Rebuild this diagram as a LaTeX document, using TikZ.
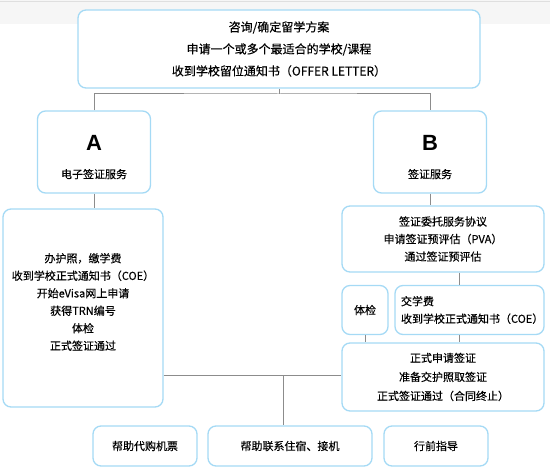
\documentclass[tikz,border=0pt]{standalone}
\usepackage{fontspec}
\setmainfont{Noto Sans CJK SC}[FakeBold=0.3]
\newfontfamily\letterfont{Liberation Sans}
\usetikzlibrary{positioning}
\definecolor{boxblue}{RGB}{165,218,245}
\definecolor{linegray}{RGB}{140,140,140}
\tikzset{
  stepbox/.style={draw=boxblue, fill=white, line width=1.3pt, rounded corners=8pt,
    align=center, inner sep=0pt, font=\fontsize{11}{17.5}\selectfont},
  link/.style={draw=linegray, line width=1pt},
}

\begin{document}
\begin{tikzpicture}[x=1pt,y=-1pt]
\useasboundingbox (0,0) rectangle (550,468);

% faint strip along the top
\fill[gray!7] (0,0) rectangle (550,24);
\draw[gray!25, line width=0.8] (0,1.5) -- (550,1.5);

\coordinate (split) at (279,94);
\coordinate (feeLine) at (459,285);
\coordinate (join) at (283,376);

\node[stepbox, minimum width=402, minimum height=78, font=\fontsize{12}{22}\selectfont] (consult) at (279,49)
  {咨询/确定留学方案\\申请一个或多个最适合的学校/课程\\收到学校留位通知书（OFFER LETTER）};

\node[stepbox, minimum width=113, minimum height=82] (visaA) at (94,152)
  {\rule{0pt}{26pt}{\letterfont\bfseries\fontsize{22}{22}\selectfont A}\\[10pt]电子签证服务};
\node[stepbox, minimum width=113, minimum height=82] (visaB) at (430,152)
  {\rule{0pt}{26pt}{\letterfont\bfseries\fontsize{22}{22}\selectfont B}\\[10pt]签证服务};

\node[stepbox, minimum width=160, minimum height=198] (evisa) at (83,308)
  {办护照，缴学费\\收到学校正式通知书（COE）\\开始eVisa网上申请\\获得TRN编号\\体检\\正式签证通过\rule[-13pt]{0pt}{13pt}};

\node[stepbox, minimum width=202, minimum height=66] (agree) at (443,239)
  {签证委托服务协议\\申请签证预评估（PVA）\\通过签证预评估};
\node[stepbox, minimum width=46, minimum height=49] (check) at (365,310) {体检};
\node[stepbox, minimum width=149, minimum height=49, text width=137, align=left] (fee) at (469.5,310)
  {交学费\\收到学校正式通知书（COE）};
\node[stepbox, minimum width=202, minimum height=68, font=\fontsize{11}{19}\selectfont] (final) at (443,377)
  {正式申请签证\\准备交护照取签证\\正式签证通过（合同终止）};

\node[stepbox, minimum width=104, minimum height=40] (ticket) at (145,446) {帮助代购机票};
\node[stepbox, minimum width=164, minimum height=40] (hotel) at (290,446) {帮助联系住宿、接机};
\node[stepbox, minimum width=104, minimum height=40] (guide) at (436,446) {行前指导};

% connectors
\draw[link] (consult.south) -- (split);
\draw[link] (visaA.north) |- (split) -| (visaB.north);
\draw[link] (visaA.south) -- (visaA.south |- evisa.north);
\draw[link] (visaB.south) -- (visaB.south |- agree.north);
\draw[link] (feeLine |- agree.south) -- (feeLine);
\draw[link] (check.south) -- (check.south |- final.north);
\draw[link] (feeLine |- fee.south) -- (feeLine |- final.north);
\draw[link] (evisa.east |- join) -- (final.west |- join);
\draw[link] (join) -- (join |- hotel.north);
\end{tikzpicture}
\end{document}
